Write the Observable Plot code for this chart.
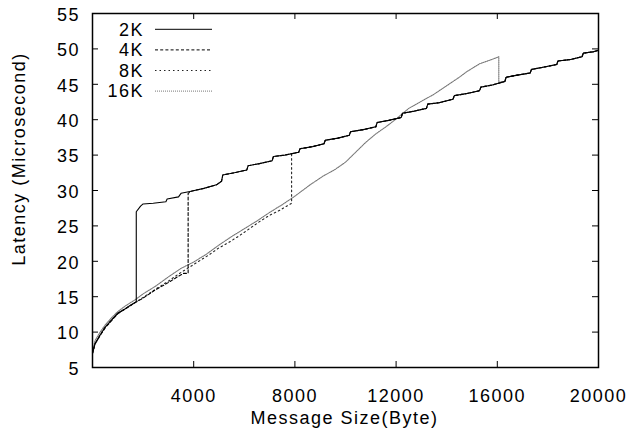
<!DOCTYPE html>
<html><head><meta charset="utf-8">
<script src="https://cdn.jsdelivr.net/npm/d3@7"></script>
<script src="https://cdn.jsdelivr.net/npm/@observablehq/plot@0.6"></script>
<style>html,body{margin:0;padding:0;background:#fff}#chart svg{display:block}</style>
</head><body><div id="chart"></div>
<script>
// Series (receive buffer sizes)
const seriesNames = ["2K", "4K", "8K", "16K"];

// Lower branch of each series (before its jump), message size in bytes / latency in microseconds
const lower2KSize = [0, 100, 300, 500, 800, 1000, 1300, 1500, 1730];
const lower2KLat  = [7.0, 8.4, 9.6, 10.7, 11.9, 12.7, 13.3, 13.8, 14.3];

const lower4KSize = [0, 100, 300, 500, 800, 1000, 1300, 1700, 2000, 2500, 3000, 3400, 3600, 3780];
const lower4KLat  = [7.0, 8.3, 9.5, 10.6, 11.8, 12.6, 13.3, 14.2, 14.8, 16.0, 17.0, 17.9, 18.3, 18.3];

const lower8KSize = [0, 100, 300, 500, 800, 1000, 1300, 1700, 2000, 2300, 2600, 3000, 3400, 3800, 4200, 4600, 5000, 5400, 5800, 6200, 6600, 7000, 7400, 7870];
const lower8KLat  = [7.0, 8.3, 9.6, 10.7, 11.9, 12.6, 13.3, 14.2, 14.9, 15.6, 16.3, 17.2, 18.2, 19.1, 20.0, 20.9, 21.9, 22.7, 23.6, 24.6, 25.6, 26.5, 27.2, 28.2];

const lower16KSize = [0, 100, 300, 500, 800, 1000, 1300, 1700, 2000, 2500, 3000, 3500, 4000, 4500, 5000, 5500, 6000, 6500, 7000, 7500, 8000, 8600, 9100, 9600, 10000, 10400, 10800, 11200, 11600, 12000, 12500, 13000, 13500, 14000, 14500, 14800, 15300, 15700, 16000, 16060];
const lower16KLat  = [7.2, 8.8, 10.0, 11.0, 12.2, 12.9, 13.7, 14.6, 15.4, 16.5, 17.8, 19.0, 19.9, 21.0, 22.3, 23.5, 24.6, 25.7, 26.9, 28.0, 29.2, 30.8, 32.0, 33.0, 34.0, 35.4, 36.8, 38.0, 39.0, 40.1, 41.6, 42.6, 43.6, 44.8, 46.0, 46.8, 47.9, 48.4, 48.8, 48.9];

// Jump of each series onto the common upper branch
const jumpSize   = [1730, 3780, 7870, 16060];
const jumpTopLat = [27.0, 29.6, 35.2, 45.3];

// Common upper branch (staircase)
const upperSize = [1900, 2000, 2400, 2900, 2950, 3400, 3500, 3900, 4400, 4900, 5100, 5150, 5600, 6100, 6150, 6600, 7100, 7150, 7600, 8150, 8200, 8700, 9150, 9200, 9700, 10150, 10200, 10700, 11200, 11250, 11700, 12200, 12250, 12700, 13200, 13250, 13700, 14250, 14300, 14800, 15300, 15350, 15800, 16300, 16350, 16800, 17300, 17350, 17800, 18350, 18400, 18900, 19350, 19400, 19800, 20000];
const upperLat  = [27.8, 28.1, 28.2, 28.4, 28.8, 29.1, 29.6, 29.9, 30.3, 30.8, 31.3, 32.2, 32.5, 32.9, 33.5, 33.8, 34.2, 34.8, 35.0, 35.4, 35.9, 36.2, 36.6, 37.1, 37.4, 37.8, 38.3, 38.6, 39.0, 39.6, 39.9, 40.3, 40.9, 41.2, 41.6, 42.2, 42.4, 42.9, 43.4, 43.7, 44.1, 44.6, 44.9, 45.4, 46.0, 46.3, 46.6, 47.1, 47.4, 47.8, 48.3, 48.5, 48.9, 49.4, 49.6, 49.8];

const xTicks = [4000, 8000, 12000, 16000, 20000];
const yTicks = [5, 10, 15, 20, 25, 30, 35, 40, 45, 50, 55];

const lowerSizes = [lower2KSize, lower4KSize, lower8KSize, lower16KSize];
const lowerLats  = [lower2KLat, lower4KLat, lower8KLat, lower16KLat];

const data = [];
seriesNames.forEach((name, i) => {
  lowerSizes[i].forEach((s, j) => data.push({series: name, size: s, lat: lowerLats[i][j]}));
  data.push({series: name, size: jumpSize[i], lat: jumpTopLat[i]});
  upperSize.forEach((s, j) => { if (s > jumpSize[i]) data.push({series: name, size: s, lat: upperLat[j]}); });
});

const styles = {
  "2K":  {stroke: "#000", dash: null},
  "4K":  {stroke: "#000", dash: "3,2.2"},
  "8K":  {stroke: "#222", dash: "1.5,3"},
  "16K": {stroke: "#777", dash: "1,1"}
};

const font = "'Liberation Sans', Arial, Helvetica, sans-serif";

const chart = Plot.plot({
  width: 631, height: 439,
  marginLeft: 92, marginRight: 33, marginTop: 13, marginBottom: 72,
  style: {fontFamily: font, fontSize: "18px", letterSpacing: "1.5px", background: "#fff", color: "#000", overflow: "visible"},
  x: {domain: [0, 20000]},
  y: {domain: [5, 55]},
  marks: [
    ...seriesNames.slice().reverse().map(n => Plot.line(data.filter(d => d.series === n), {
      x: "size", y: "lat", stroke: styles[n].stroke, strokeWidth: 1.1, strokeDasharray: styles[n].dash
    })),
    Plot.tickX(xTicks, {x: d => d, insetTop: 348, stroke: "#000", strokeWidth: 1}),
    Plot.tickX(xTicks, {x: d => d, insetBottom: 348, stroke: "#000", strokeWidth: 1}),
    Plot.tickY(yTicks, {y: d => d, insetRight: 500, stroke: "#000", strokeWidth: 1}),
    Plot.tickY(yTicks, {y: d => d, insetLeft: 500, stroke: "#000", strokeWidth: 1}),
    Plot.axisX({ticks: xTicks, tickSize: 0, tickPadding: 22, tickFormat: "d", label: null}),
    Plot.axisY({ticks: yTicks, tickSize: 0, tickPadding: 12.5, tickFormat: "d", label: null, dy: 1.5}),
    Plot.frame({stroke: "#000", strokeWidth: 1.5}),
    Plot.text(["Message Size(Byte)"], {frameAnchor: "bottom", dy: 51, dx: -1, textAnchor: "middle", lineAnchor: "middle", fill: "#000"}),
    Plot.text(["Latency (Microsecond)"], {frameAnchor: "left", rotate: -90, dx: -73, dy: -31.5, textAnchor: "middle", lineAnchor: "middle", fill: "#000"})
  ]
});

document.getElementById("chart").appendChild(chart);

// Legend (inside the plot, top-left)
const svg = d3.select(chart);
const legend = svg.append("g").attr("font-family", font).attr("font-size", 18).attr("letter-spacing", "1.5px");
seriesNames.forEach((n, i) => {
  const y = 29.3 + i * 20.6;
  legend.append("text").attr("x", 144).attr("y", y + 6.2).attr("text-anchor", "end").attr("fill", "#000").text(n);
  legend.append("line").attr("x1", 155).attr("x2", 212).attr("y1", y).attr("y2", y)
    .attr("stroke", styles[n].stroke).attr("stroke-width", 1)
    .attr("stroke-dasharray", styles[n].dash);
});
</script>
</body></html>
